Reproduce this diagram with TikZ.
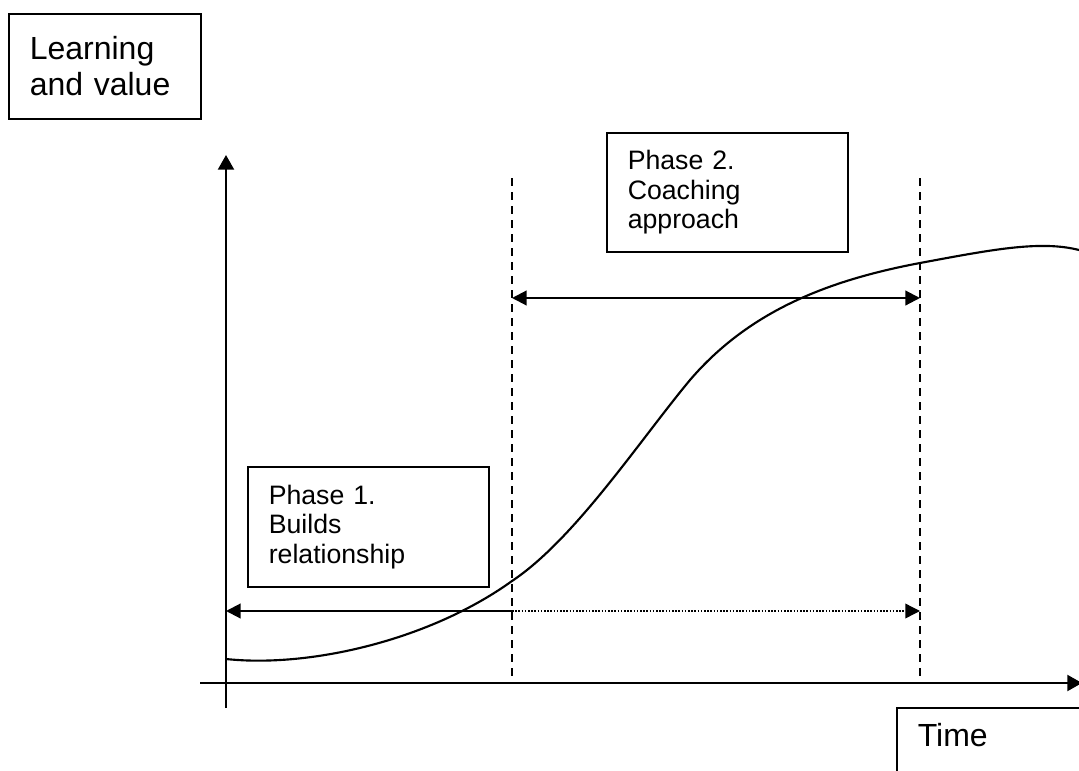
\documentclass[tikz,border=0pt]{standalone}
\usepackage{fontspec}
\setmainfont{Liberation Sans}
\usetikzlibrary{arrows.meta}

\begin{document}
\begin{tikzpicture}[x=0.75pt, y=-0.75pt,
            labelBox/.style={draw, line width=1.2pt, anchor=north west, align=left, inner xsep=15.75pt, font=\fontsize{24}{27}\selectfont},
            phaseBox/.style={draw, line width=1.2pt, anchor=north west, align=left, inner xsep=15.75pt, font=\fontsize{20}{22}\selectfont},
            axisLine/.style={line width=1.6pt, -{Triangle[length=11pt, width=12pt]}},
            guideLine/.style={line width=1.2pt, dash pattern=on 6pt off 4.5pt},
            spanArrow/.style={line width=1.6pt, -{Triangle[length=11pt, width=11pt]}},
            dotArrow/.style={line width=1pt, dash pattern=on 1.2pt off 1.2pt, -{Triangle[length=11pt, width=11pt]}}]

            \useasboundingbox (0,0) rectangle (1079,771);

            \node [labelBox, text width=112.5pt, minimum height=78.75pt](learnBox) at (8,13) {Learning\\and value};
            \node [labelBox, text width=150pt, inner ysep=12pt, text depth=45pt](timeBox) at (896,707) {Time};
            \node [phaseBox, text width=149.25pt, minimum height=89.25pt](phaseTwo) at (606,132) {Phase 2.\\Coaching\\approach};
            \node [phaseBox, text width=149.25pt, minimum height=90pt](phaseOne) at (247,466) {Phase 1.\\Builds\\relationship};

            \coordinate (yFoot) at (226,708);
            \coordinate (yTip) at (226,155);
            \coordinate (xFoot) at (200,683);
            \coordinate (xTip) at (1082,683);
            \coordinate (leftGuideTop) at (512,178);
            \coordinate (leftGuideFoot) at (512,683);
            \coordinate (rightGuideTop) at (920,178);
            \coordinate (rightGuideFoot) at (920,683);
            \coordinate (topSpanL) at (512,298);
            \coordinate (topSpanR) at (920,298);
            \coordinate (lowSpanL) at (226,611);
            \coordinate (lowSpanM) at (512,611);
            \coordinate (lowSpanR) at (920,611);

            \draw[axisLine] (yFoot) -- (yTip);
            \draw[axisLine] (xFoot) -- (xTip);
            \draw[guideLine] (leftGuideTop) -- (leftGuideFoot);
            \draw[guideLine] (rightGuideTop) -- (rightGuideFoot);
            \draw[spanArrow, {Triangle[length=11pt, width=11pt]}-{Triangle[length=11pt, width=11pt]}] (topSpanL) -- (topSpanR);
            \draw[spanArrow] (lowSpanM) -- (lowSpanL);
            \draw[dotArrow] (lowSpanM) -- (lowSpanR);

            \draw[line width=1.6pt] (226,659) .. controls (310,668) and (430,640) .. (512,581)
                .. controls (575,539) and (640,440) .. (690,380)
                .. controls (750,310) and (830,280) .. (920,263)
                .. controls (990,250) and (1040,240) .. (1079,250);
        \end{tikzpicture}
\end{document}
